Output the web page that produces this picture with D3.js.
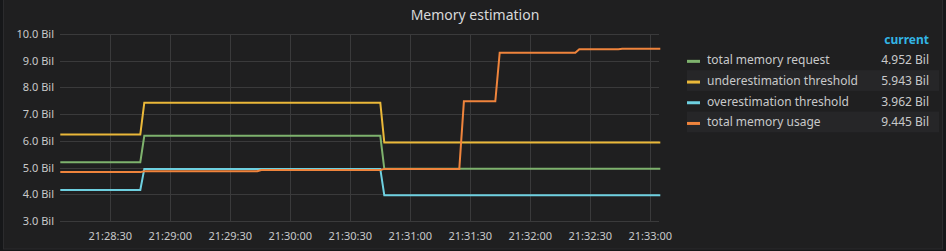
<!DOCTYPE html>
<html lang="en">
<head>
  <meta charset="UTF-8">
  <title>Memory estimation</title>
  <script src="https://d3js.org/d3.v7.min.js"></script>
  <style>
    html, body {
      margin: 0;
      padding: 0;
      background: #161719;
    }
    body {
      font-family: "Noto Sans", "Open Sans", sans-serif;
    }
    svg text {
      fill: #c8c9ca;
    }
  </style>
</head>
<body>
  <div id="chart"></div>

  <script>
    // Sample times (seconds after 21:28:00) and values in billions
    const thresholdTimes = [5, 45, 47, 165, 167, 305];
    const memoryRequest = [5.20, 5.20, 6.19, 6.19, 4.952, 4.952];
    const underThreshold = [6.24, 6.24, 7.43, 7.43, 5.943, 5.943];
    const overThreshold = [4.16, 4.16, 4.95, 4.95, 3.962, 3.962];

    const usageTimes = [5, 45, 47, 103.5, 105.5, 165, 167, 204.5, 206.8, 222.5, 224.7, 262.5, 264.5, 284, 286, 305];
    const memoryUsage = [4.83, 4.83, 4.86, 4.86, 4.91, 4.91, 4.95, 4.95, 7.48, 7.48, 9.30, 9.30, 9.43, 9.43, 9.445, 9.445];

    const seriesNames = ["total memory request", "underestimation threshold", "overestimation threshold", "total memory usage"];
    const seriesColors = ["#7eb26d", "#eab839", "#6ed0e0", "#ef843c"];
    const currentLabels = ["4.952 Bil", "5.943 Bil", "3.962 Bil", "9.445 Bil"];
    const yTicks = [3, 4, 5, 6, 7, 8, 9, 10];

    const width = 946;
    const height = 251;
    const margin = {top: 34, right: 287, bottom: 30, left: 60};

    const base = new Date(2018, 0, 1, 21, 28, 0);
    const toDate = s => new Date(base.getTime() + s * 1000);

    const series = [
      {times: thresholdTimes, values: memoryRequest},
      {times: thresholdTimes, values: underThreshold},
      {times: thresholdTimes, values: overThreshold},
      {times: usageTimes, values: memoryUsage}
    ].map((s, i) => ({
      name: seriesNames[i],
      color: seriesColors[i],
      current: currentLabels[i],
      points: s.times.map((t, j) => ({date: toDate(t), value: s.values[j]}))
    }));

    const svg = d3.select("#chart").append("svg")
        .attr("width", width)
        .attr("height", height);

    // panel
    svg.append("rect")
        .attr("x", 3.5)
        .attr("y", -2)
        .attr("width", 939)
        .attr("height", 251)
        .attr("fill", "#1f1f20")
        .attr("stroke", "#2b2b2d");

    svg.append("text")
        .attr("x", 475)
        .attr("y", 20)
        .attr("text-anchor", "middle")
        .attr("font-size", 14)
        .style("fill", "#d8d9da")
        .text("Memory estimation");

    const x = d3.scaleTime()
        .domain([toDate(4.85), toDate(304.35)])
        .range([margin.left, width - margin.right]);

    const y = d3.scaleLinear()
        .domain([3, 10])
        .range([height - margin.bottom, margin.top]);

    // grid
    svg.append("g")
        .attr("stroke", "#3a3a3b")
      .selectAll("line.h")
      .data(yTicks)
      .join("line")
        .attr("x1", margin.left)
        .attr("x2", width - margin.right)
        .attr("y1", d => Math.round(y(d)) + 0.5)
        .attr("y2", d => Math.round(y(d)) + 0.5);

    const xTicks = x.ticks(d3.timeSecond.every(30));
    svg.append("g")
        .attr("stroke", "#3a3a3b")
      .selectAll("line.v")
      .data(xTicks)
      .join("line")
        .attr("x1", d => Math.round(x(d)) + 0.5)
        .attr("x2", d => Math.round(x(d)) + 0.5)
        .attr("y1", margin.top)
        .attr("y2", height - margin.bottom);

    // axes labels
    svg.append("g")
      .selectAll("text")
      .data(yTicks)
      .join("text")
        .attr("x", 54)
        .attr("y", d => y(d) + 4)
        .attr("text-anchor", "end")
        .attr("font-size", 11)
        .text(d => d.toFixed(1) + " Bil");

    const fmt = d3.timeFormat("%H:%M:%S");
    svg.append("g")
      .selectAll("text")
      .data(xTicks)
      .join("text")
        .attr("x", d => x(d))
        .attr("y", height - margin.bottom + 19)
        .attr("text-anchor", "middle")
        .attr("font-size", 11)
        .text(d => fmt(d));

    // lines
    const line = d3.line()
        .x(d => x(d.date))
        .y(d => y(d.value));

    svg.append("g")
      .selectAll("path")
      .data(series)
      .join("path")
        .attr("fill", "none")
        .attr("stroke", d => d.color)
        .attr("stroke-width", 2)
        .attr("d", d => line(d.points));

    // legend
    const legendX = 687;
    const rowH = 20.7;
    const legend = svg.append("g");

    legend.append("text")
        .attr("x", 929)
        .attr("y", 44)
        .attr("text-anchor", "end")
        .attr("font-size", 12)
        .attr("font-weight", "bold")
        .style("fill", "#33b5e5")
        .text("current");

    const rows = legend.selectAll("g.row")
      .data(series)
      .join("g")
        .attr("transform", (d, i) => `translate(0, ${49.5 + i * rowH})`);

    rows.filter((d, i) => i % 2 === 1).append("rect")
        .attr("x", legendX)
        .attr("y", 0)
        .attr("width", 252)
        .attr("height", rowH)
        .attr("fill", "#262628");

    rows.append("rect")
        .attr("x", legendX)
        .attr("y", rowH / 2)
        .attr("width", 13)
        .attr("height", 3)
        .attr("fill", d => d.color);

    rows.append("text")
        .attr("x", 707)
        .attr("y", rowH / 2 + 4.5)
        .attr("font-size", 12)
        .text(d => d.name);

    rows.append("text")
        .attr("x", 929)
        .attr("y", rowH / 2 + 4.5)
        .attr("text-anchor", "end")
        .attr("font-size", 12)
        .text(d => d.current);
  </script>
</body>
</html>
